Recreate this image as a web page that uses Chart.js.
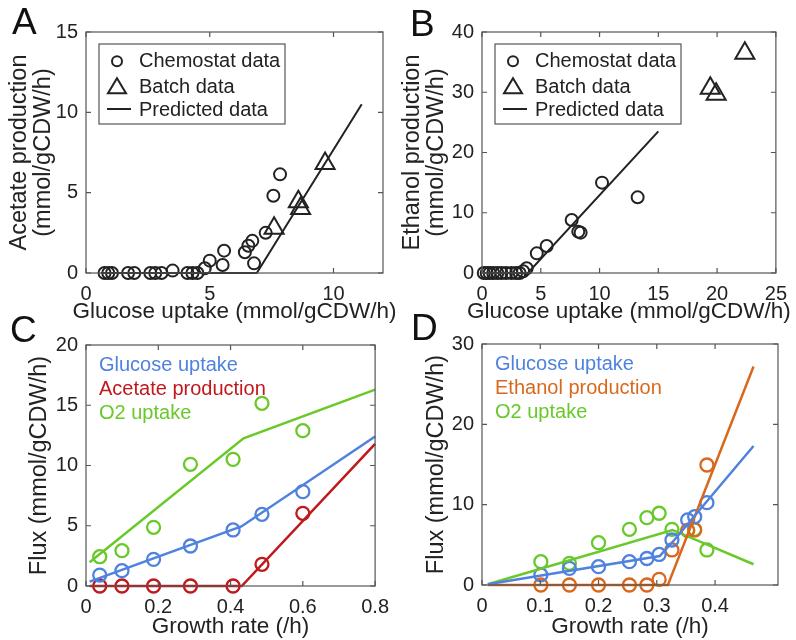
<!DOCTYPE html>
<html lang="en">
<head>
<meta charset="UTF-8">
<title>Glucose uptake and overflow fluxes</title>
<script src="https://cdn.jsdelivr.net/npm/chart.js@4.4.1/dist/chart.umd.min.js"></script>
<style>
  body { margin: 0; background: #fff; }
  #wrap { position: relative; width: 796px; height: 640px; overflow: hidden; font-family: "Liberation Sans", Arial, sans-serif; }
  canvas { position: absolute; }
  .tag { position: absolute; font-size: 37px; line-height: 37px; color: #111; }
</style>
</head>
<body>
<div id="wrap">
  <canvas id="chartA" width="398" height="330" style="left:0;top:0"></canvas>
  <canvas id="chartB" width="398" height="330" style="left:398px;top:0"></canvas>
  <canvas id="chartC" width="398" height="330" style="left:0;top:310px"></canvas>
  <canvas id="chartD" width="398" height="330" style="left:398px;top:310px"></canvas>
  <div class="tag" style="left:12px;top:3px">A</div>
  <div class="tag" style="left:410px;top:5px">B</div>
  <div class="tag" style="left:10px;top:311px">C</div>
  <div class="tag" style="left:411px;top:309px">D</div>
</div>
<script>
const FONT = '"Liberation Sans", Arial, Helvetica, sans-serif';
const INK = '#222222';
const AXIS = '#555555';
const BLUE = '#4f82df';
const RED = '#c0181c';
const GREEN = '#69c92a';
const ORANGE = '#d9681d';

// A: acetate vs glucose uptake
const aChemX = [0.75, 0.9, 1.05, 1.7, 1.95, 2.6, 2.8, 3.05, 3.5, 4.1, 4.3, 4.5, 4.8, 5.0, 5.52, 5.58, 6.42, 6.56, 6.72, 6.79, 7.26, 7.57, 7.84];
const aChemY = [0, 0, 0, 0, 0, 0, 0, 0, 0.15, 0, 0, 0, 0.3, 0.77, 0.5, 1.39, 1.29, 1.7, 2.0, 0.6, 2.5, 4.81, 6.14];
const aBatchX = [7.6, 8.58, 8.67, 9.66];
const aBatchY = [2.78, 4.44, 4.02, 6.82];
const aPredX = [0.6, 6.9, 11.14];
const aPredY = [0, 0, 10.5];
const aXTicks = [0, 5, 10];
const aYTicks = [0, 5, 10, 15];

// B: ethanol vs glucose uptake
const bChemX = [0.15, 0.4, 0.65, 0.95, 1.3, 1.65, 2.05, 2.5, 2.9, 3.2, 3.5, 3.8, 4.66, 5.5, 7.63, 8.19, 8.39, 10.21, 13.24];
const bChemY = [0, 0, 0, 0, 0, 0, 0, 0, 0, 0, 0.3, 0.8, 3.26, 4.48, 8.8, 6.86, 6.7, 15.0, 12.56];
const bBatchX = [19.42, 19.92, 22.36];
const bBatchY = [30.65, 29.66, 36.46];
const bPredX = [0.1, 3.9, 15.0];
const bPredY = [0, 0, 23.5];
const bXTicks = [0, 5, 10, 15, 20, 25];
const bYTicks = [0, 10, 20, 30, 40];

// C: fluxes vs growth rate (acetate)
const cRate = [0.038, 0.0995, 0.187, 0.289, 0.407, 0.487, 0.6];
const cGlucose = [0.91, 1.27, 2.21, 3.32, 4.65, 5.95, 7.83];
const cAcetate = [0, 0, 0, 0, 0, 1.8, 6.03];
const cO2 = [2.43, 2.93, 4.87, 10.1, 10.51, 15.16, 12.89];
const cGlucoseLineX = [0.01, 0.43, 0.8];
const cGlucoseLineY = [0.36, 4.94, 12.4];
const cAcetateLineX = [0.01, 0.431, 0.8];
const cAcetateLineY = [0, 0, 11.8];
const cO2LineX = [0.01, 0.436, 0.8];
const cO2LineY = [1.97, 12.26, 16.3];
const cXTicks = [0, 0.2, 0.4, 0.6, 0.8];
const cYTicks = [0, 5, 10, 15, 20];

// D: fluxes vs growth rate (ethanol)
const dRate = [0.101, 0.15, 0.2, 0.253, 0.283, 0.304, 0.326, 0.353, 0.365, 0.386];
const dGlucose = [1.25, 2.07, 2.28, 2.9, 3.3, 3.8, 5.6, 8.1, 8.5, 10.25];
const dEthanol = [0, 0, 0, 0, 0, 0.7, 4.36, 6.8, 6.85, 14.94];
const dO2 = [2.9, 2.7, 5.27, 6.93, 8.38, 8.93, 6.93, 6.8, 6.93, 4.36];
const dGlucoseLineX = [0.01, 0.305, 0.33, 0.466];
const dGlucoseLineY = [0.1, 3.6, 5.6, 17.3];
const dEthanolLineX = [0.01, 0.319, 0.466];
const dEthanolLineY = [0, 0, 27.2];
const dO2LineX = [0.01, 0.327, 0.466];
const dO2LineY = [0.1, 6.85, 2.58];
const dXTicks = [0, 0.1, 0.2, 0.3, 0.4];
const dYTicks = [0, 10, 20, 30];

const pts = (xs, ys) => xs.map((x, i) => ({ x, y: ys[i] }));

function markers(label, xs, ys, color, style, r, row) {
  return {
    label, data: pts(xs, ys), showLine: false, clip: false,
    pointStyle: style, pointRadius: r, pointHoverRadius: r,
    pointBorderColor: color, pointBackgroundColor: 'rgba(0,0,0,0)',
    pointBorderWidth: color === INK ? 2 : 2.3, legendRow: row
  };
}
function curve(label, xs, ys, color, w, row) {
  return {
    label, data: pts(xs, ys), showLine: true, clip: false, tension: 0,
    pointRadius: 0, pointHoverRadius: 0, borderColor: color, borderWidth: w, legendRow: row
  };
}

// frame with inward ticks on all four sides, plus the x title
// (drawn here so it is not squeezed to the plot width)
const frame = {
  id: 'frame',
  afterDraw(chart) {
    const { ctx, chartArea: a, scales: { x, y } } = chart;
    const len = 5;
    ctx.save();
    ctx.strokeStyle = AXIS;
    ctx.lineWidth = 1.2;
    ctx.strokeRect(a.left, a.top, a.right - a.left, a.bottom - a.top);
    ctx.beginPath();
    x.ticks.forEach(t => {
      const px = x.getPixelForValue(t.value);
      ctx.moveTo(px, a.bottom); ctx.lineTo(px, a.bottom - len);
      ctx.moveTo(px, a.top); ctx.lineTo(px, a.top + len);
    });
    y.ticks.forEach(t => {
      const py = y.getPixelForValue(t.value);
      ctx.moveTo(a.left, py); ctx.lineTo(a.left + len, py);
      ctx.moveTo(a.right, py); ctx.lineTo(a.right - len, py);
    });
    ctx.stroke();

    const xt = chart.options.scales.x.title;
    ctx.fillStyle = INK;
    ctx.font = '22.5px ' + FONT;
    ctx.textAlign = 'center';
    ctx.textBaseline = 'alphabetic';
    ctx.fillText(xt.text, (a.left + a.right) / 2, a.bottom + chart.$xTitleGap);
    ctx.restore();
  }
};

function boxLegend() {
  return {
    id: 'boxLegend',
    afterDraw(chart) {
      const { ctx, chartArea: a } = chart;
      const rows = [35.3, 60.7, 84];
      ctx.save();
      ctx.fillStyle = '#fff';
      ctx.strokeStyle = AXIS;
      ctx.lineWidth = 1.2;
      ctx.fillRect(a.left + 13, a.top + 12, 186, 80);
      ctx.strokeRect(a.left + 13, a.top + 12, 186, 80);
      ctx.font = '20px ' + FONT;
      ctx.textBaseline = 'alphabetic';
      chart.data.datasets.forEach(d => {
        if (d.legendRow === undefined) return;
        const by = a.top + rows[d.legendRow];
        const mx = a.left + 31;
        ctx.strokeStyle = INK;
        ctx.lineWidth = 2;
        ctx.beginPath();
        if (d.showLine) {
          ctx.moveTo(a.left + 21, by - 7); ctx.lineTo(a.left + 45, by - 7);
        } else if (d.pointStyle === 'triangle') {
          const cy = by - 6.5;
          ctx.moveTo(mx, cy - 8); ctx.lineTo(mx + 9, cy + 7); ctx.lineTo(mx - 9, cy + 7); ctx.closePath();
        } else {
          ctx.arc(mx, by - 6, 5, 0, Math.PI * 2);
        }
        ctx.stroke();
        ctx.fillStyle = INK;
        ctx.fillText(d.label, a.left + 53, by);
      });
      ctx.restore();
    }
  };
}

function textLegend() {
  return {
    id: 'textLegend',
    afterDraw(chart) {
      const { ctx, chartArea: a } = chart;
      const rows = [25.7, 50, 74.3];
      ctx.save();
      ctx.font = '20px ' + FONT;
      ctx.textBaseline = 'alphabetic';
      chart.data.datasets.forEach(d => {
        if (d.legendRow === undefined || d.showLine) return;
        ctx.fillStyle = d.pointBorderColor;
        ctx.fillText(d.label, a.left + 13, a.top + rows[d.legendRow]);
      });
      ctx.restore();
    }
  };
}

function axis(dir, min, max, ticks, title, titlePad, size) {
  return {
    type: 'linear', min, max,
    grid: { display: false, drawTicks: false },
    border: { display: false },
    afterBuildTicks: s => { s.ticks = ticks.map(v => ({ value: v })); },
    afterFit: s => { if (dir === 'x') s.height = size; else s.width = size; },
    ticks: {
      color: INK, padding: dir === 'x' ? 9 : 8, maxRotation: 0, autoSkip: false,
      font: { family: FONT, size: 20 },
      callback: v => String(v)
    },
    title: {
      display: dir === 'y', text: title, color: INK, padding: titlePad,
      font: { family: FONT, size: 23.5, lineHeight: 1.02 }
    }
  };
}

function panel(id, box, xCfg, yCfg, datasets, legendPlugin) {
  const chart = new Chart(document.getElementById(id), {
    type: 'scatter',
    data: { datasets },
    options: {
      responsive: false,
      animation: false,
      events: [],
      layout: { padding: { top: box.top, right: box.right, left: 0, bottom: 0 } },
      plugins: { legend: { display: false }, tooltip: { enabled: false } },
      scales: {
        x: axis('x', xCfg.min, xCfg.max, xCfg.ticks, xCfg.title, 0, box.bottom),
        y: axis('y', yCfg.min, yCfg.max, yCfg.ticks, yCfg.title, yCfg.pad, box.left)
      }
    },
    plugins: [frame, legendPlugin]
  });
  chart.$xTitleGap = xCfg.gap;
  chart.draw();
  return chart;
}

const glucoseTitle = 'Glucose uptake (mmol/gCDW/h)';
const rateTitle = 'Growth rate (/h)';
const fluxTitle = 'Flux (mmol/gCDW/h)';

panel('chartA', { left: 86, top: 32, right: 15, bottom: 57 },
  { min: 0, max: 12, ticks: aXTicks, title: glucoseTitle, gap: 45 },
  { min: 0, max: 15, ticks: aYTicks, title: ['Acetate production', '(mmol/gCDW/h)'], pad: { top: 8, bottom: 0 } },
  [
    curve('Predicted data', aPredX, aPredY, INK, 2, 2),
    markers('Chemostat data', aChemX, aChemY, INK, 'circle', 6, 0),
    markers('Batch data', aBatchX, aBatchY, INK, 'triangle', 11, 1)
  ], boxLegend());

panel('chartB', { left: 84, top: 32, right: 17, bottom: 57 },
  { min: 0, max: 25, ticks: bXTicks, title: glucoseTitle, gap: 45 },
  { min: 0, max: 40, ticks: bYTicks, title: ['Ethanol production', '(mmol/gCDW/h)'], pad: { top: 3, bottom: 0 } },
  [
    curve('Predicted data', bPredX, bPredY, INK, 2, 2),
    markers('Chemostat data', bChemX, bChemY, INK, 'circle', 6, 0),
    markers('Batch data', bBatchX, bBatchY, INK, 'triangle', 11, 1)
  ], boxLegend());

panel('chartC', { left: 86, top: 35, right: 17, bottom: 54 },
  { min: 0, max: 0.8, ticks: cXTicks, title: rateTitle, gap: 47 },
  { min: 0, max: 20, ticks: cYTicks, title: fluxTitle, pad: { top: 28, bottom: 0 } },
  [
    curve('Glucose uptake', cGlucoseLineX, cGlucoseLineY, BLUE, 2.5),
    curve('Acetate production', cAcetateLineX, cAcetateLineY, RED, 2.5),
    curve('O2 uptake', cO2LineX, cO2LineY, GREEN, 2.5),
    markers('Glucose uptake', cRate, cGlucose, BLUE, 'circle', 6.5, 0),
    markers('Acetate production', cRate, cAcetate, RED, 'circle', 6.5, 1),
    markers('O2 uptake', cRate, cO2, GREEN, 'circle', 6.5, 2)
  ], textLegend());

panel('chartD', { left: 84, top: 34, right: 18, bottom: 55 },
  { min: 0, max: 0.508, ticks: dXTicks, title: rateTitle, gap: 48 },
  { min: 0, max: 30, ticks: dYTicks, title: fluxTitle, pad: { top: 27, bottom: 0 } },
  [
    curve('Glucose uptake', dGlucoseLineX, dGlucoseLineY, BLUE, 2.5),
    curve('Ethanol production', dEthanolLineX, dEthanolLineY, ORANGE, 2.5),
    curve('O2 uptake', dO2LineX, dO2LineY, GREEN, 2.5),
    markers('Glucose uptake', dRate, dGlucose, BLUE, 'circle', 6.5, 0),
    markers('Ethanol production', dRate, dEthanol, ORANGE, 'circle', 6.5, 1),
    markers('O2 uptake', dRate, dO2, GREEN, 'circle', 6.5, 2)
  ], textLegend());
</script>
</body>
</html>
